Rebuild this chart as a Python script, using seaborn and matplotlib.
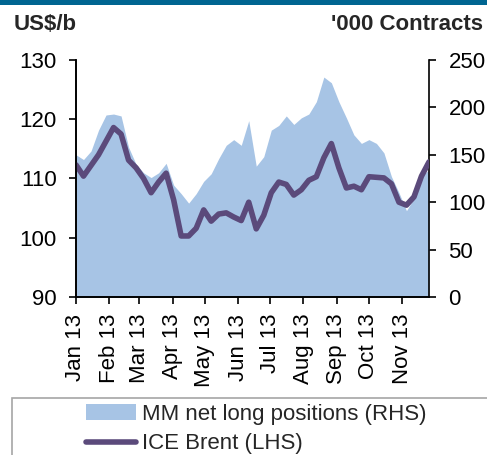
import numpy as np
import pandas as pd
import matplotlib
matplotlib.use("Agg")
import matplotlib.pyplot as plt
import matplotlib.dates as mdates
from matplotlib.patches import Rectangle, Patch
from matplotlib.lines import Line2D
import seaborn as sns

# Weekly data (COT report Tuesdays), Jan - Nov 2013
dates = pd.date_range("2013-01-01", periods=48, freq="7D")

# MM net long positions, '000 contracts (RHS)
mm_net_long = [150, 145, 154, 176, 192, 193, 191, 158, 140, 131,
               126, 131, 141, 118, 109, 99, 109, 122, 130, 146,
               160, 166, 160, 186, 138, 148, 176, 181, 191, 182,
               189, 193, 206, 232, 226, 206, 189, 171, 162, 166,
               162, 152, 127, 110, 91, 104, 128, 134]

# ICE Brent, US$/b (LHS)
brent = [112.3, 110.4, 112.2, 114.0, 116.3, 118.6, 117.5, 113.1, 111.8, 110.0,
         107.6, 109.4, 110.9, 106.4, 100.3, 100.3, 101.6, 104.7, 102.8, 104.0,
         104.2, 103.5, 102.9, 106.0, 101.5, 103.8, 107.6, 109.4, 109.0, 107.2,
         108.1, 109.7, 110.3, 113.5, 115.9, 111.8, 108.4, 108.7, 108.1, 110.3,
         110.2, 110.1, 109.1, 106.0, 105.5, 106.9, 110.4, 112.8]

left_ticks = [90, 100, 110, 120, 130]
right_ticks = [0, 50, 100, 150, 200, 250]
labels = ["MM net long positions (RHS)", "ICE Brent (LHS)"]

area_color = "#A7C4E5"
line_color = "#5B4A7B"

df = pd.DataFrame({"date": dates, "mm": mm_net_long, "brent": brent})

sns.set_style("ticks")
plt.rcParams["font.family"] = ["Liberation Sans", "DejaVu Sans"]

W, H = 487, 455
fig = plt.figure(figsize=(W / 100, H / 100), dpi=100)
ax = fig.add_axes([76 / W, 1 - 297 / H, 353 / W, 237 / H])
ax2 = ax.twinx()

# area on the right axis, line on the left axis (drawn on top)
ax2.fill_between(df["date"], df["mm"], 0, color=area_color, linewidth=0)
sns.lineplot(data=df, x="date", y="brent", ax=ax, color=line_color,
             linewidth=4, solid_joinstyle="round", solid_capstyle="round")
ax.set_zorder(ax2.get_zorder() + 1)
ax.patch.set_visible(False)

ax.set_xlim(dates[0], dates[-1])
ax.set_ylim(90, 130)
ax.set_yticks(left_ticks)
ax2.set_ylim(0, 250)
ax2.set_yticks(right_ticks)
ax.set_xlabel("")
ax.set_ylabel("")

ax.xaxis.set_major_locator(mdates.MonthLocator())
ax.xaxis.set_major_formatter(mdates.DateFormatter("%b %y"))

for a in (ax, ax2):
    a.spines["top"].set_visible(False)
    for s in a.spines.values():
        s.set_color("black")
        s.set_linewidth(1.2)
ax.spines["right"].set_visible(False)

ax.tick_params(axis="y", direction="out", length=5, width=1.2, pad=9,
               labelsize=16, colors="black")
ax.tick_params(axis="x", direction="out", length=5, width=1.2, pad=7,
               labelsize=16, colors="black", labelrotation=90)
ax2.tick_params(axis="y", direction="out", length=5, width=1.2, pad=9,
                labelsize=16, colors="black")

# header strip and axis titles
fig.add_artist(Rectangle((0, 1 - 5 / H), 1, 5 / H, transform=fig.transFigure,
                         color="#006591", linewidth=0))
fig.text(14 / W, 1 - 24 / H, "US$/b", fontsize=16, fontweight="bold",
         ha="left", va="center")
fig.text(483 / W, 1 - 24 / H, "'000 Contracts", fontsize=16, fontweight="bold",
         ha="right", va="center")

# legend box
fig.add_artist(Rectangle((12 / W, -0.1), 1.2, 0.1 + (1 - 398 / H),
                         transform=fig.transFigure, fill=False,
                         edgecolor="#A6A6A6", linewidth=1.2, clip_on=False))
handles = [Patch(facecolor=area_color, edgecolor="none"),
           Line2D([], [], color=line_color, linewidth=4, solid_capstyle="round")]
fig.legend(handles, labels, loc="upper left",
           bbox_to_anchor=(86 / W, 1 - 404 / H), frameon=False, fontsize=16,
           handlelength=2.25, handletextpad=0.25, labelspacing=0.38,
           borderpad=0, borderaxespad=0)

fig.savefig("out.png", dpi=100)
